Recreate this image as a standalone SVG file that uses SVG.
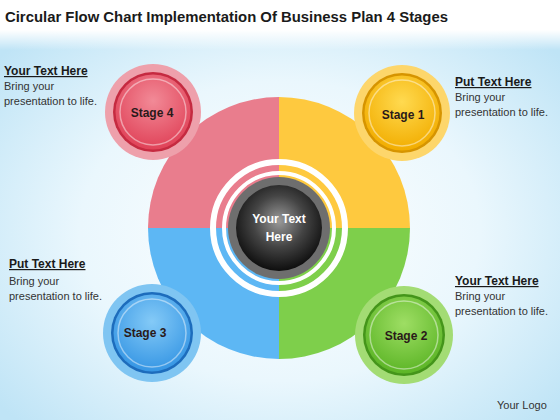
<svg xmlns="http://www.w3.org/2000/svg" width="560" height="420" viewBox="0 0 560 420">
<defs>
<radialGradient id="bg" cx="0.5" cy="0.55" r="0.65">
<stop offset="0" stop-color="#ffffff"/>
<stop offset="0.55" stop-color="#eaf7fd"/>
<stop offset="1" stop-color="#bfe4f6"/>
</radialGradient>
<linearGradient id="topfade" x1="0" y1="0" x2="0" y2="1">
<stop offset="0" stop-color="#ffffff" stop-opacity="1"/>
<stop offset="0.6" stop-color="#ffffff" stop-opacity="1"/>
<stop offset="1" stop-color="#ffffff" stop-opacity="0"/>
</linearGradient>
<radialGradient id="sphere" cx="0.5" cy="0.42" r="0.6">
<stop offset="0" stop-color="#9a9a9a"/>
<stop offset="0.5" stop-color="#444444"/>
<stop offset="1" stop-color="#0a0a0a"/>
</radialGradient>
<radialGradient id="gRed" cx="0.5" cy="0.35" r="0.65">
<stop offset="0" stop-color="#f28a97"/>
<stop offset="1" stop-color="#e04258"/>
</radialGradient>
<radialGradient id="gYel" cx="0.5" cy="0.35" r="0.65">
<stop offset="0" stop-color="#ffda50"/>
<stop offset="1" stop-color="#f2ad00"/>
</radialGradient>
<radialGradient id="gBlu" cx="0.5" cy="0.35" r="0.65">
<stop offset="0" stop-color="#84caf7"/>
<stop offset="1" stop-color="#3696e4"/>
</radialGradient>
<radialGradient id="gGrn" cx="0.5" cy="0.35" r="0.65">
<stop offset="0" stop-color="#9ede64"/>
<stop offset="1" stop-color="#5cb526"/>
</radialGradient>
</defs>
<style>
.title{font-family:"Liberation Sans",Arial,sans-serif;font-weight:bold;font-size:15.5px;fill:#1a1a1a}
.head{font-family:"Liberation Sans",Arial,sans-serif;font-weight:bold;font-size:12px;fill:#1a1a1a;text-decoration:underline}
.body{font-family:"Liberation Sans",Arial,sans-serif;font-size:11px;fill:#333333}
.stage{font-family:"Liberation Sans",Arial,sans-serif;font-weight:bold;font-size:12px;fill:#2a1a1a;text-anchor:middle}
.ctr{font-family:"Liberation Sans",Arial,sans-serif;font-weight:bold;font-size:12px;fill:#ffffff;text-anchor:middle}
.hl{fill:none;stroke:#ffffff;stroke-opacity:0.45;stroke-width:1.5}
</style>
<rect x="0" y="0" width="560" height="420" fill="url(#bg)"/>
<rect x="0" y="0" width="560" height="50" fill="url(#topfade)"/>
<text class="title" x="5" y="22" textLength="443" lengthAdjust="spacingAndGlyphs">Circular Flow Chart Implementation Of Business Plan 4 Stages</text>

<g id="wheel">
<path d="M279,228 L279,97 A131,131 0 0 0 148,228 Z" fill="#e97d8d"/>
<path d="M279,228 L279,97 A131,131 0 0 1 410,228 Z" fill="#fec93f"/>
<path d="M279,228 L148,228 A131,131 0 0 0 279,359 Z" fill="#5db7f4"/>
<path d="M279,228 L410,228 A131,131 0 0 1 279,359 Z" fill="#7ecf4b"/>
<circle cx="279" cy="228" r="66" fill="none" stroke="#ffffff" stroke-width="6"/>
<circle cx="279" cy="228" r="55" fill="none" stroke="#ffffff" stroke-width="4"/>
</g>

<g id="center">
<circle cx="279" cy="228" r="51" fill="#6e6e6e"/>
<circle cx="279" cy="228" r="43" fill="url(#sphere)"/>
<text class="ctr" x="279" y="223">Your Text</text>
<text class="ctr" x="279" y="241">Here</text>
</g>

<g id="stage4">
<circle cx="153" cy="112" r="48" fill="#eea0ab"/>
<circle cx="153" cy="112" r="40" fill="#c52a40"/>
<circle cx="153" cy="112" r="37.5" fill="url(#gRed)"/>
<circle cx="153" cy="112" r="33" class="hl"/>
<text class="stage" x="152" y="117">Stage 4</text>
</g>

<g id="stage1">
<circle cx="402" cy="113" r="48" fill="#fdd66b"/>
<circle cx="402" cy="113" r="40" fill="#d69400"/>
<circle cx="402" cy="113" r="37.5" fill="url(#gYel)"/>
<circle cx="402" cy="113" r="33" class="hl"/>
<text class="stage" x="403" y="119">Stage 1</text>
</g>

<g id="stage3">
<circle cx="152" cy="333" r="49" fill="#7fc5f2"/>
<circle cx="152" cy="333" r="41" fill="#1d6cbc"/>
<circle cx="152" cy="333" r="38.5" fill="url(#gBlu)"/>
<circle cx="152" cy="333" r="34" class="hl"/>
<text class="stage" x="145" y="337">Stage 3</text>
</g>

<g id="stage2">
<circle cx="404" cy="335" r="49" fill="#a3dc74"/>
<circle cx="404" cy="335" r="41" fill="#44951a"/>
<circle cx="404" cy="335" r="38.5" fill="url(#gGrn)"/>
<circle cx="404" cy="335" r="34" class="hl"/>
<text class="stage" x="406" y="340">Stage 2</text>
</g>

<g id="text-tl">
<text class="head" x="4" y="75">Your Text Here</text>
<text class="body" x="4" y="90">Bring your</text>
<text class="body" x="4" y="105">presentation to life.</text>
</g>
<g id="text-tr">
<text class="head" x="455" y="86">Put Text Here</text>
<text class="body" x="455" y="101">Bring your</text>
<text class="body" x="455" y="116">presentation to life.</text>
</g>
<g id="text-bl">
<text class="head" x="9" y="268">Put Text Here</text>
<text class="body" x="9" y="285">Bring your</text>
<text class="body" x="9" y="300">presentation to life.</text>
</g>
<g id="text-br">
<text class="head" x="455" y="285">Your Text Here</text>
<text class="body" x="455" y="300">Bring your</text>
<text class="body" x="455" y="315">presentation to life.</text>
</g>
<g id="connectors"/>
<text class="body" x="497" y="409" fill="#222222">Your Logo</text>
</svg>
